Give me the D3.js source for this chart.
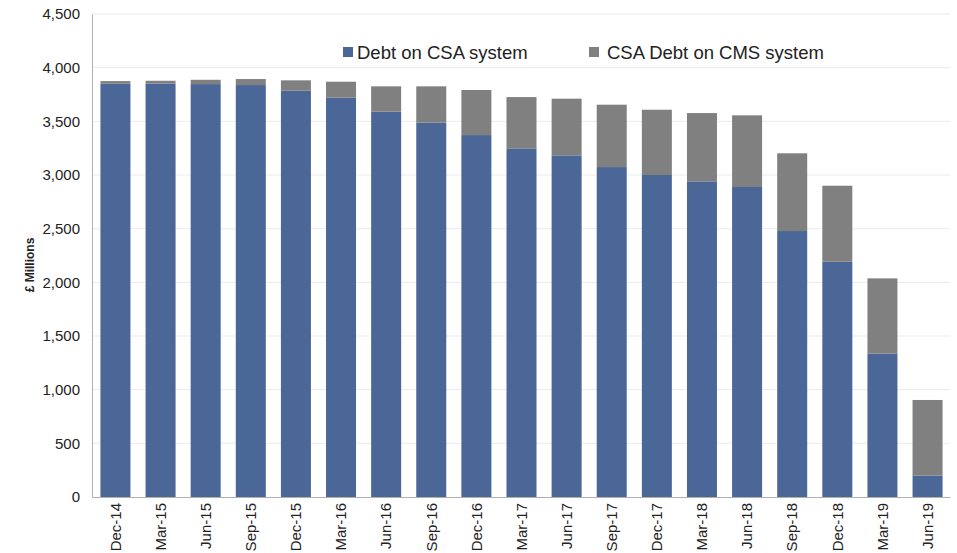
<!DOCTYPE html>
<html><head><meta charset="utf-8">
<script src="https://cdn.jsdelivr.net/npm/d3@7"></script>
<style>body{margin:0;background:#fff}svg{display:block;font-family:"Liberation Sans",Arial,sans-serif}</style>
</head><body><svg id="c" width="957" height="553"></svg>
<script>
const categories = ["Dec-14","Mar-15","Jun-15","Sep-15","Dec-15","Mar-16","Jun-16","Sep-16","Dec-16","Mar-17","Jun-17","Sep-17","Dec-17","Mar-18","Jun-18","Sep-18","Dec-18","Mar-19","Jun-19"];
const csaDebt = [3850,3852,3847,3838,3785,3720,3590,3487,3372,3248,3183,3074,3000,2941,2888,2478,2192,1335,199];
const cmsDebt = [25,26,40,56,97,149,236,339,420,478,528,581,608,636,668,724,708,702,705];
const yTicks = [0,500,1000,1500,2000,2500,3000,3500,4000,4500];
const seriesNames = ["Debt on CSA system","CSA Debt on CMS system"];
const colors = ["#4a6797","#808080"];

const svg = d3.select("#c");
const x = d3.scaleBand().domain(categories).range([92.5,950.5]).paddingInner(0.335).paddingOuter(0.176);
const y = d3.scaleLinear().domain([0,4500]).range([497,14]);

// gridlines
svg.append("g").selectAll("line").data(yTicks.filter(d=>d>0)).join("line")
  .attr("x1",92).attr("x2",950).attr("y1",d=>y(d)).attr("y2",d=>y(d))
  .attr("stroke","#ebebeb").attr("stroke-width",1);

// stacked data
const rows = categories.map((c,i)=>({cat:c, csa:csaDebt[i], cms:cmsDebt[i]}));
const stack = d3.stack().keys(["csa","cms"])(rows);
svg.append("g").selectAll("g").data(stack).join("g").attr("fill",(d,i)=>colors[i])
  .selectAll("rect").data(d=>d).join("rect")
  .attr("x",d=>x(d.data.cat)).attr("width",x.bandwidth())
  .attr("y",d=>y(d[1])).attr("height",d=>y(d[0])-y(d[1]));

// y axis
const ya = svg.append("g").attr("transform","translate(92,0)")
  .call(d3.axisLeft(y).tickValues(yTicks).tickFormat(d3.format(",")).tickSize(0).tickPadding(12));
ya.select(".domain").attr("stroke","#b0b0b0");
ya.selectAll("text").attr("font-size",15).attr("fill","#222").attr("font-family","Liberation Sans, Arial, sans-serif");

// x axis
const xa = svg.append("g").attr("transform","translate(0,497)")
  .call(d3.axisBottom(x).tickSize(0).tickPadding(0));
xa.select(".domain").attr("stroke","#b0b0b0").attr("d","M92.5,0.5H950.5");
xa.selectAll("text").attr("font-size",15).attr("fill","#222").attr("font-family","Liberation Sans, Arial, sans-serif")
  .attr("transform","rotate(-90)").attr("text-anchor","end").attr("dy","0.35em").attr("x",-6).attr("y",0);

// y title
svg.append("text").attr("transform","translate(34,265) rotate(-90)").attr("text-anchor","middle")
  .attr("font-size",12).attr("font-weight","bold").attr("fill","#222").text("£ Millions");

// legend
const legX = [343,589];
const legGap = [14,18];
seriesNames.forEach((n,i)=>{
  svg.append("rect").attr("x",legX[i]).attr("y",47).attr("width",10).attr("height",10).attr("fill",colors[i]);
  svg.append("text").attr("x",legX[i]+legGap[i]).attr("y",59).attr("font-size",18.5).attr("fill","#222").text(n);
});
</script></body></html>
